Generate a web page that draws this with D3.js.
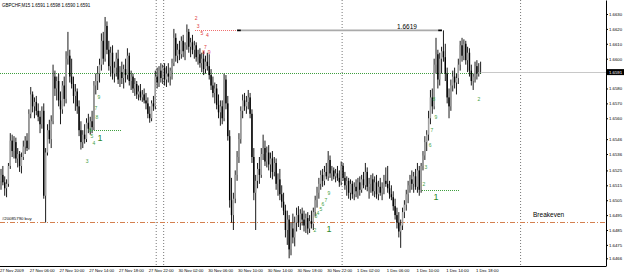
<!DOCTYPE html>
<html>
<head>
<meta charset="utf-8">
<script src="https://cdn.jsdelivr.net/npm/d3@7"></script>
<style>
  body { margin: 0; background: #fff; }
  svg { display: block; font-family: "Liberation Sans", Arial, sans-serif; }
</style>
</head>
<body>
<svg id="chart" width="625" height="275"></svg>
<script>
// GBPCHF M15, 27 Nov 2009 -> 1 Dec 2009
// prices are kept as the last 4 digits (6522 = 1.6522)
const opens = [6518,6522,6517,6513,6516,6528,6545,6538,6544,6533,6536,6528,6534,6541,6545,6540,6563,6576,6568,6571,
  6565,6561,6556,6565,6508,6537,6552,6546,6558,6588,6580,6585,6572,6566,6582,6573,6600,6602,6588,6583,
  6575,6578,6568,6552,6544,6549,6546,6557,6553,6558,6554,6582,6585,6590,6596,6612,6600,6622,6606,6595,
  6604,6590,6594,6600,6586,6591,6587,6593,6589,6602,6585,6588,6580,6583,6576,6578,6574,6576,6572,6570,
  6563,6560,6570,6568,6588,6584,6592,6587,6594,6586,6590,6588,6592,6597,6614,6602,6606,6603,6612,6605,
  6609,6618,6608,6611,6606,6609,6601,6603,6597,6600,6593,6598,6595,6589,6582,6577,6580,6569,6564,6568,
  6560,6586,6570,6548,6505,6495,6506,6522,6534,6546,6565,6572,6568,6571,6574,6563,6534,6510,6518,6526,
  6522,6536,6540,6531,6537,6529,6533,6524,6530,6516,6519,6509,6504,6498,6485,6492,6472,6486,6480,6490,
  6495,6490,6496,6492,6488,6493,6486,6491,6489,6497,6505,6510,6516,6522,6518,6524,6521,6532,6523,6525,
  6521,6523,6520,6517,6528,6520,6515,6518,6510,6516,6509,6514,6511,6517,6512,6519,6515,6524,6514,6516,
  6519,6511,6517,6509,6514,6510,6513,6518,6516,6513,6509,6507,6501,6495,6490,6484,6488,6497,6502,6509,
  6515,6519,6516,6521,6514,6525,6512,6528,6535,6544,6549,6560,6574,6568,6596,6603,6586,6600,6605,6601,
  6590,6574,6568,6582,6588,6584,6587,6596,6609,6602,6610,6599,6604,6592,6585,6588,6595,6590,6591];
const highs = [6526,6528,6521,6519,6530,6550,6549,6548,6547,6540,6538,6537,6545,6548,6550,6566,6581,6578,6574,6575,
  6570,6565,6568,6570,6540,6556,6559,6562,6596,6592,6588,6590,6578,6585,6588,6605,6618,6606,6600,6588,
  6583,6580,6572,6558,6552,6556,6560,6563,6561,6565,6585,6590,6595,6600,6617,6618,6628,6625,6612,6608,
  6609,6598,6604,6606,6595,6598,6596,6600,6607,6604,6592,6590,6587,6585,6582,6583,6579,6580,6577,6574,
  6568,6572,6575,6592,6594,6595,6597,6596,6597,6595,6597,6594,6600,6620,6617,6610,6612,6615,6616,6611,
  6623,6620,6614,6616,6612,6611,6606,6607,6604,6605,6602,6604,6603,6593,6588,6584,6583,6576,6572,6572,
  6590,6589,6575,6552,6520,6510,6525,6538,6550,6568,6576,6577,6575,6579,6577,6566,6540,6522,6530,6534,
  6540,6549,6545,6541,6542,6537,6538,6534,6533,6523,6526,6515,6510,6502,6498,6495,6490,6496,6494,6500,
  6501,6499,6500,6498,6496,6497,6495,6498,6500,6508,6514,6520,6525,6526,6528,6530,6538,6535,6528,6527,
  6526,6528,6525,6531,6530,6524,6521,6520,6519,6518,6517,6519,6520,6521,6522,6524,6530,6527,6520,6522,
  6523,6521,6522,6518,6520,6517,6522,6527,6528,6518,6515,6511,6506,6500,6497,6492,6500,6505,6512,6518,
  6522,6525,6524,6526,6530,6528,6530,6538,6548,6552,6565,6579,6580,6600,6614,6606,6604,6608,6619,6610,
  6594,6580,6586,6592,6594,6590,6600,6612,6614,6613,6612,6608,6607,6596,6590,6598,6599,6597,6598];
const lows = [6512,6515,6508,6507,6514,6526,6534,6533,6530,6527,6524,6523,6532,6536,6538,6539,6560,6564,6560,6562,
  6558,6550,6553,6506,6490,6535,6543,6540,6556,6575,6572,6568,6556,6563,6568,6570,6596,6584,6580,6570,
  6565,6563,6548,6539,6540,6543,6544,6550,6549,6550,6552,6576,6579,6584,6592,6596,6598,6603,6592,6588,
  6586,6584,6588,6583,6581,6583,6580,6584,6586,6582,6579,6577,6575,6573,6572,6572,6571,6570,6566,6560,
  6557,6558,6565,6566,6580,6581,6584,6583,6582,6581,6584,6582,6586,6595,6598,6597,6599,6600,6601,6599,
  6606,6604,6601,6603,6600,6598,6596,6594,6591,6589,6590,6592,6586,6579,6574,6570,6566,6560,6555,6556,
  6558,6566,6545,6500,6490,6485,6503,6518,6530,6543,6560,6565,6563,6566,6560,6530,6505,6485,6513,6516,
  6520,6532,6528,6527,6525,6520,6519,6521,6512,6508,6505,6500,6495,6480,6475,6466,6468,6476,6474,6484,
  6487,6485,6488,6484,6483,6482,6483,6486,6485,6494,6500,6506,6512,6514,6515,6519,6518,6520,6518,6519,
  6517,6518,6514,6515,6518,6512,6508,6506,6505,6506,6505,6507,6506,6508,6510,6513,6512,6511,6506,6510,
  6508,6507,6506,6505,6508,6505,6509,6514,6510,6506,6505,6498,6492,6486,6480,6473,6485,6493,6498,6503,
  6510,6512,6510,6512,6510,6508,6510,6525,6532,6538,6545,6556,6563,6566,6590,6580,6582,6590,6598,6585,
  6570,6560,6565,6578,6580,6576,6583,6592,6598,6599,6596,6591,6588,6582,6579,6584,6586,6588,6590];
const closes = [6522,6517,6513,6516,6528,6545,6538,6544,6533,6536,6528,6534,6541,6545,6540,6563,6576,6568,6571,6565,
  6561,6556,6565,6508,6537,6552,6546,6558,6588,6580,6585,6572,6566,6582,6573,6600,6602,6588,6583,6575,
  6578,6568,6552,6544,6549,6546,6557,6553,6558,6554,6582,6585,6590,6596,6612,6600,6622,6606,6595,6604,
  6590,6594,6600,6586,6591,6587,6593,6589,6602,6585,6588,6580,6583,6576,6578,6574,6576,6572,6570,6563,
  6560,6570,6568,6588,6584,6592,6587,6594,6586,6590,6588,6592,6597,6614,6602,6606,6603,6612,6605,6609,
  6618,6608,6611,6606,6609,6601,6603,6597,6600,6593,6598,6595,6589,6582,6577,6580,6569,6564,6568,6560,
  6586,6570,6548,6505,6495,6506,6522,6534,6546,6565,6572,6568,6571,6574,6563,6534,6510,6518,6526,6522,
  6536,6540,6531,6537,6529,6533,6524,6530,6516,6519,6509,6504,6498,6485,6492,6472,6486,6480,6490,6495,
  6490,6496,6492,6488,6493,6486,6491,6489,6497,6505,6510,6516,6522,6518,6524,6521,6532,6523,6525,6521,
  6523,6520,6517,6528,6520,6515,6518,6510,6516,6509,6514,6511,6517,6512,6519,6515,6524,6514,6516,6519,
  6511,6517,6509,6514,6510,6513,6518,6516,6513,6509,6507,6501,6495,6490,6484,6488,6497,6502,6509,6515,
  6519,6516,6521,6514,6525,6512,6528,6535,6544,6549,6560,6574,6568,6596,6603,6586,6600,6605,6601,6590,
  6574,6568,6582,6588,6584,6587,6596,6609,6602,6610,6599,6604,6592,6585,6588,6595,6590,6591,6591];

// one label every 16 bars (4 hours)
const timeLabels = ['27 Nov 2009','27 Nov 06:00','27 Nov 10:00','27 Nov 14:00','27 Nov 18:00','27 Nov 22:00',
  '30 Nov 02:00','30 Nov 06:00','30 Nov 10:00','30 Nov 14:00','30 Nov 18:00','30 Nov 22:00',
  '1 Dec 02:00','1 Dec 06:00','1 Dec 10:00','1 Dec 14:00','1 Dec 18:00'];
const priceTicks = [1.6630,1.6620,1.6610,1.6600,1.6580,1.6570,1.6560,1.6546,1.6536,1.6525,1.6515,1.6505,1.6495,1.6485,1.6475,1.6466];
const daySeparators = [84, 88, 184, 280];   // first bar of each new day

const bidPrice = 1.6591;
const linePrice = 1.6590;
const breakevenPrice = 1.6490;
const trendPrice = 1.6619;

// wave counts: [text, bar, price]
const redCounts = [['2',105,1.6627],['3',106,1.6622],['5',108,1.6617],['4',111,1.6616],['7',110,1.6608],['8',109,1.6604],['9',112,1.6604]];
const greenCounts = [
  ['9',52.7,1.6574],['7',51.1,1.6567],['8',51.6,1.6561],['6',47.9,1.6552],['5',48.9,1.6548],['4',50,1.6543],['3',46.3,1.6531],
  ['9',176.4,1.6510],['7',174.8,1.6505],['6',173.2,1.6502],['5',172.1,1.6499],['4',170.5,1.6496],['3',169.4,1.6494],['2',168.9,1.6485],
  ['8',232.9,1.6573],['9',234,1.6561],['7',231.8,1.6552],['6',230.8,1.6542],['3',228.6,1.6527],['2',227.5,1.6516],['2',257.1,1.6573]];
const ones = [[53.3,1.6547],[176.4,1.6486],[234,1.6507]];
const greenDots = [[47.9,65.1,1.65515],[226.5,246.4,1.65112]];

const px = v => 1 + v / 10000;
const barStep = 1.859;
const right = 606, bottom = 266;

const svg = d3.select('#chart');

const x = d3.scaleLinear()
    .domain([0, right / barStep])   // bar index
    .range([1, right + 1]);

const y = d3.scaleLinear()
    .domain([1.646083, 1.663940])
    .range([bottom, 0]);

const bars = closes.map((c, i) => ({ i, o: px(opens[i]), h: px(highs[i]), l: px(lows[i]), c: px(c) }));
const green = '#3f9f3f';

// day separators
svg.append('g').selectAll('line')
    .data(daySeparators)
    .join('line')
    .attr('x1', d => x(d - 0.5)).attr('x2', d => x(d - 0.5))
    .attr('y1', 0).attr('y2', bottom)
    .attr('stroke', '#555').attr('stroke-width', 0.8).attr('stroke-dasharray', '1,2');

// breakeven line
svg.append('line')
    .attr('x1', 0).attr('x2', right)
    .attr('y1', y(breakevenPrice)).attr('y2', y(breakevenPrice))
    .attr('shape-rendering', 'crispEdges')
    .attr('stroke', '#d4804f').attr('stroke-width', 1).attr('stroke-dasharray', '5,2,1,2');

// bid line + dotted horizontal level
const last = bars.length - 1;
svg.append('line')
    .attr('x1', x(last + 0.5)).attr('x2', right)
    .attr('y1', y(bidPrice)).attr('y2', y(bidPrice))
    .attr('shape-rendering', 'crispEdges')
    .attr('stroke', '#c8c8c8').attr('stroke-width', 1);
svg.append('line')
    .attr('x1', 0).attr('x2', x(last + 0.5))
    .attr('y1', y(linePrice)).attr('y2', y(linePrice))
    .attr('shape-rendering', 'crispEdges')
    .attr('stroke', green).attr('stroke-width', 1).attr('stroke-dasharray', '1,1');

// candles
const candles = svg.append('g');
candles.selectAll('line')
    .data(bars)
    .join('line')
    .attr('x1', d => x(d.i)).attr('x2', d => x(d.i))
    .attr('y1', d => y(d.h)).attr('y2', d => y(d.l))
    .attr('stroke', '#000').attr('stroke-width', 0.9);
candles.selectAll('rect')
    .data(bars)
    .join('rect')
    .attr('x', d => x(d.i) - 0.7)
    .attr('width', 1.4)
    .attr('y', d => y(Math.max(d.o, d.c)))
    .attr('height', d => Math.max(0.6, Math.abs(y(d.o) - y(d.c))))
    .attr('fill', d => d.c >= d.o ? '#a0a0a0' : '#000');

// trend line with price label
svg.append('line')
    .attr('x1', x(104.5)).attr('x2', x(127))
    .attr('y1', y(trendPrice)).attr('y2', y(trendPrice))
    .attr('shape-rendering', 'crispEdges')
    .attr('stroke', '#f07070').attr('stroke-width', 1).attr('stroke-dasharray', '1,1');
svg.append('line')
    .attr('x1', x(127)).attr('x2', x(237.2))
    .attr('y1', y(trendPrice)).attr('y2', y(trendPrice))
    .attr('stroke', '#aaa').attr('stroke-width', 1.6);
svg.append('g').selectAll('line')
    .data([127, 235.2])
    .join('line')
    .attr('x1', d => x(d)).attr('x2', d => x(d + 2))
    .attr('y1', y(trendPrice)).attr('y2', y(trendPrice))
    .attr('stroke', '#000').attr('stroke-width', 1.6);
svg.append('text')
    .attr('x', x(218.4)).attr('y', y(1.66213))
    .attr('text-anchor', 'middle').attr('dy', '0.35em')
    .attr('font-size', 6.5).text('1.6619');

// green dotted wave starts
svg.append('g').selectAll('line')
    .data(greenDots)
    .join('line')
    .attr('x1', d => x(d[0])).attr('x2', d => x(d[1]))
    .attr('y1', d => y(d[2])).attr('y2', d => y(d[2]))
    .attr('shape-rendering', 'crispEdges')
    .attr('stroke', green).attr('stroke-width', 1).attr('stroke-dasharray', '1,1');

// wave count labels
svg.append('g').selectAll('text')
    .data(redCounts)
    .join('text')
    .attr('x', d => x(d[1])).attr('y', d => y(d[2]))
    .attr('text-anchor', 'middle').attr('dy', '0.35em')
    .attr('font-size', 5).attr('fill', '#e03c3c')
    .text(d => d[0]);
svg.append('g').selectAll('text')
    .data(greenCounts)
    .join('text')
    .attr('x', d => x(d[1])).attr('y', d => y(d[2]))
    .attr('text-anchor', 'middle').attr('dy', '0.35em')
    .attr('font-size', 5).attr('fill', green)
    .text(d => d[0]);
svg.append('g').selectAll('text')
    .data(ones)
    .join('text')
    .attr('x', d => x(d[0])).attr('y', d => y(d[1]))
    .attr('text-anchor', 'middle').attr('dy', '0.35em')
    .attr('font-size', 9).attr('fill', '#2a8a2a')
    .text('1');

// order labels
svg.append('text')
    .attr('x', x(0.5)).attr('y', y(1.6493))
    .attr('dy', '0.35em').attr('font-size', 4.3)
    .text('#20085790 buy');
svg.append('text')
    .attr('x', x(286.2)).attr('y', y(1.6495))
    .attr('dy', '0.35em').attr('font-size', 6.5)
    .text('Breakeven');

// title
svg.append('text')
    .attr('x', 2).attr('y', 5)
    .attr('dy', '0.35em').attr('font-size', 4.5)
    .text('GBPCHF,M15  1.6591 1.6598 1.6590 1.6591');

// price axis
const yAxis = d3.axisRight(y)
    .tickValues(priceTicks)
    .tickSize(2).tickSizeOuter(0).tickPadding(1)
    .tickFormat(d3.format('.4f'));
svg.append('g')
    .attr('transform', `translate(${right},0)`)
    .call(yAxis)
    .call(g => g.selectAll('text').attr('font-size', 4.3).attr('font-family', null));

// current price box
svg.append('rect')
    .attr('x', right + 1).attr('y', y(bidPrice) - 3)
    .attr('width', 17).attr('height', 6).attr('fill', '#000');
svg.append('text')
    .attr('x', right + 3).attr('y', y(bidPrice))
    .attr('dy', '0.35em').attr('font-size', 4.3).attr('fill', '#fff')
    .text(d3.format('.4f')(bidPrice));

// time axis
const xAxis = d3.axisBottom(x)
    .tickValues(timeLabels.map((t, i) => i * 16))
    .tickSize(0).tickPadding(3)
    .tickFormat((d, i) => timeLabels[i]);
svg.append('g')
    .attr('transform', `translate(0,${bottom})`)
    .call(xAxis)
    .call(g => g.select('.domain').attr('d', `M0,0.5H${right}`))
    .call(g => g.selectAll('text')
        .attr('text-anchor', 'start').attr('dx', -1.5)
        .attr('font-size', 4.2).attr('font-family', null));
</script>
</body>
</html>
